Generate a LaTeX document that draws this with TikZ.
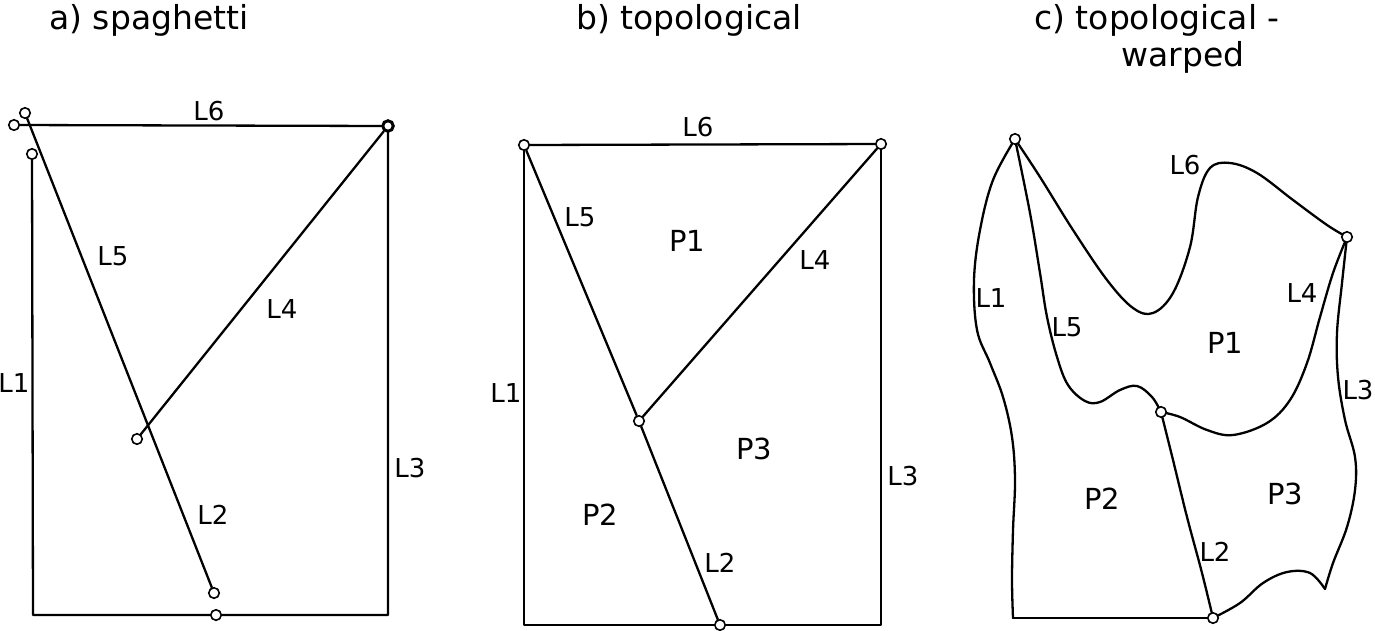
\documentclass[tikz,border=0pt]{standalone}
\usepackage{fontspec}
\setmainfont{DejaVu Sans}
\usetikzlibrary{backgrounds}
\begin{document}
\begin{tikzpicture}[x=1pt,y=-1pt,
  edge/.style={line width=2.3pt, line join=round, line cap=round},
  pt/.style={circle, draw, line width=1.6pt, fill=white, inner sep=0pt, minimum size=10.5pt},
  lab/.style={font=\fontsize{26}{26}\selectfont, inner sep=0pt},
  poly/.style={font=\fontsize{29}{29}\selectfont, inner sep=0pt},
  ttl/.style={font=\fontsize{33}{33}\selectfont, inner sep=0pt, anchor=base},
  curve/.style={edge, smooth, tension=0.6}]
\useasboundingbox (0,0) rectangle (1375,630);

% ---------- titles
\node[ttl] (ta) at (149,29) {a) spaghetti};
\node[ttl] (tb) at (689,29) {b) topological};
\node[ttl] (tc) at (1157,29) {c) topological -};
\node[ttl] (tc2) at (1183,66) {warped};

% ---------- a) spaghetti
\node[pt] (a1) at (14,125) {};
\node[pt] (a2) at (25,113) {};
\node[pt] (a3) at (32,154) {};
\node[pt, line width=3pt, minimum size=10.5pt] (a4) at (388,126) {};
\node[pt] (a5) at (137,439) {};
\node[pt] (a6) at (214,593) {};
\node[pt] (a7) at (216,615) {};
\coordinate (abl) at (33,615);
\coordinate (abr) at (388,615);
\begin{scope}[on background layer]
\draw[edge] (a1.center) -- (a4.center);
\draw[edge] (a3) -- (abl) -- (abr) -- (a4.center);
\end{scope}
\draw[edge] (a2) -- (a6);
\draw[edge] (a4) -- (a5);
\node[lab] (aL6) at (209,111) {L6};
\node[lab] (aL5) at (113,256) {L5};
\node[lab] (aL4) at (282,309) {L4};
\node[lab] (aL1) at (14,383) {L1};
\node[lab] (aL3) at (410,468) {L3};
\node[lab] (aL2) at (213,515) {L2};

% ---------- b) topological
\node[pt] (b1) at (524,145) {};
\node[pt] (b2) at (881,144) {};
\node[pt] (b3) at (639,421) {};
\node[pt] (b4) at (720,625) {};
\coordinate (bbl) at (524,625);
\coordinate (bbr) at (881,625);
\draw[edge] (b1) -- (b2);
\draw[edge] (b1) -- (bbl) -- (b4);
\draw[edge] (b4) -- (bbr) -- (b2);
\draw[edge] (b1) -- (b3);
\draw[edge] (b3) -- (b4);
\draw[edge] (b2) -- (b3);
\node[lab] (bL6) at (698,127) {L6};
\node[lab] (bL5) at (580,217) {L5};
\node[poly] (bP1) at (687,241) {P1};
\node[lab] (bL4) at (815,260) {L4};
\node[lab] (bL1) at (506,393) {L1};
\node[poly] (bP3) at (754,449) {P3};
\node[lab] (bL3) at (903,476) {L3};
\node[poly] (bP2) at (600,515) {P2};
\node[lab] (bL2) at (720,563) {L2};

% ---------- c) topological - warped
\node[pt] (cA) at (1015,139) {};
\node[pt] (cB) at (1347,237) {};
\node[pt] (cC) at (1161,412) {};
\node[pt] (cD) at (1213,618) {};
\coordinate (cBL) at (1013,618);
\coordinate (cT) at (1325,589);
\begin{scope}[on background layer]
% L1
\draw[curve] plot coordinates {(cA.center) (993,180) (980,230) (974,280) (977,330) (990,363) (1003,397) (1012,437) (1015,480) (1013,530) (1012,580) (cBL)};
\draw[edge] (cBL) -- (cD.center);
% L5
\draw[curve] plot coordinates {(cA.center) (1030,213) (1040,273) (1047,317) (1057,357) (1068,385) (1085,401) (1100,402) (1120,390) (1137,386) (1152,397) (cC.center)};
% L6
\draw[curve] plot coordinates {(cA.center) (1040,177) (1073,230) (1107,280) (1133,308) (1153,313) (1173,293) (1190,247) (1198,197) (1210,168) (1230,163) (1257,173) (1293,200) (1327,225) (cB.center)};
% L4
\draw[curve] plot coordinates {(cB.center) (1333,273) (1320,317) (1307,363) (1290,400) (1267,423) (1233,435) (1207,430) (1180,417) (cC.center)};
% L3
\draw[curve] plot coordinates {(cB.center) (1342,283) (1337,333) (1338,377) (1345,420) (1355,457) (1355,490) (1347,527) (1333,563) (cT)};
% bottom right
\draw[curve] plot coordinates {(cD.center) (1240,603) (1263,583) (1287,572) (1310,573) (cT)};
% L2
\draw[curve] plot coordinates {(cC.center) (1173,460) (1187,517) (1202,573) (cD.center)};
\end{scope}
\node[lab] (cL6) at (1185,165) {L6};
\node[lab] (cL1) at (991,298) {L1};
\node[lab] (cL5) at (1067,327) {L5};
\node[lab] (cL4) at (1302,293) {L4};
\node[poly] (cP1) at (1225,343) {P1};
\node[lab] (cL3) at (1358,390) {L3};
\node[poly] (cP2) at (1102,499) {P2};
\node[poly] (cP3) at (1285,494) {P3};
\node[lab] (cL2) at (1215,552) {L2};
\end{tikzpicture}
\end{document}
